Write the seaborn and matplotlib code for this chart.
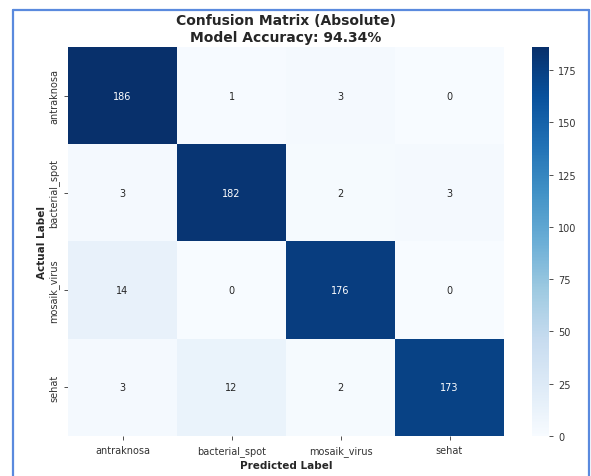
import numpy as np
import pandas as pd
import matplotlib
matplotlib.use("Agg")
import matplotlib.pyplot as plt
from matplotlib.lines import Line2D
import seaborn as sns

# Class names and confusion counts (rows = actual, columns = predicted)
classes = ["antraknosa", "bacterial_spot", "mosaik_virus", "sehat"]
row_antraknosa = [186, 1, 3, 0]
row_bacterial_spot = [3, 182, 2, 3]
row_mosaik_virus = [14, 0, 176, 0]
row_sehat = [3, 12, 2, 173]

cm = pd.DataFrame(
    [row_antraknosa, row_bacterial_spot, row_mosaik_virus, row_sehat],
    index=classes, columns=classes,
)
accuracy = np.trace(cm.values) / cm.values.sum() * 100

sns.set_theme(style="white")
plt.rcParams["font.family"] = ["DejaVu Sans"]

fig = plt.figure(figsize=(5.91, 4.77), dpi=100)
ax = fig.add_axes([0.1151, 0.0839, 0.7377, 0.8155])
cax = fig.add_axes([0.9002, 0.0839, 0.0288, 0.8155])

sns.heatmap(
    cm, annot=True, fmt="d", cmap="Blues", ax=ax, cbar_ax=cax,
    annot_kws={"fontsize": 7},
)

ax.set_title(f"Confusion Matrix (Absolute)\nModel Accuracy: {accuracy:.2f}%",
             fontsize=10, fontweight="bold", pad=4, linespacing=1.3)
ax.set_xlabel("Predicted Label", fontsize=7.5, fontweight="bold", labelpad=3)
ax.set_ylabel("Actual Label", fontsize=7.5, fontweight="bold", labelpad=1)
ax.tick_params(axis="both", labelsize=7, length=3, width=0.6, color="#333333",
               left=True, bottom=True, labelcolor="#333333")
plt.setp(ax.get_yticklabels(), rotation=90, va="center")
plt.setp(ax.get_xticklabels(), rotation=0)

cax.set_yticks([0, 25, 50, 75, 100, 125, 150, 175])
cax.tick_params(labelsize=7, length=3, width=0.6, color="#333333",
                labelcolor="#333333", right=True)

# Blue frame around the figure, open at the bottom
frame_kw = dict(transform=fig.transFigure, color="#5a8ade", linewidth=1.6)
x0, x1 = 13 / 591, 588.5 / 591
ytop = 1 - 11 / 477
fig.add_artist(Line2D([x0, x0], [0, ytop], **frame_kw))
fig.add_artist(Line2D([x1, x1], [0, ytop], **frame_kw))
fig.add_artist(Line2D([x0, x1], [ytop, ytop], **frame_kw))

fig.savefig("out.png", dpi=100)
